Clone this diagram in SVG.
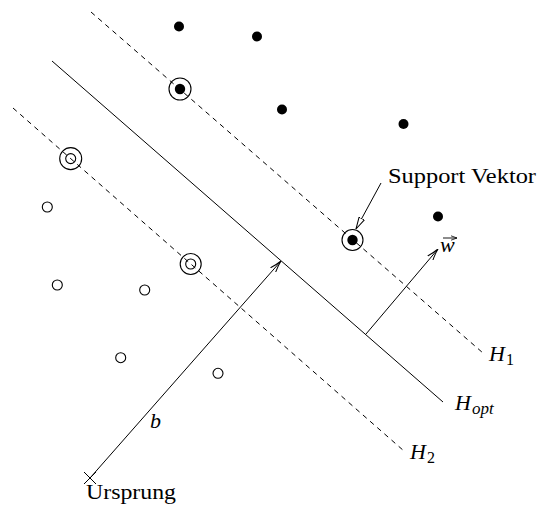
<svg xmlns="http://www.w3.org/2000/svg" width="540" height="507" viewBox="0 0 540 507">
<style>
.ln{stroke:#000;stroke-width:1;fill:none}
.dash{stroke:#000;stroke-width:1;fill:none;stroke-dasharray:5 4.5}
.fd{fill:#000}
.od{fill:#fff;stroke:#000;stroke-width:1.1}
.ring{fill:none;stroke:#000;stroke-width:1.1}
.t{font-family:"Liberation Serif","DejaVu Serif",serif;font-size:22px;fill:#000}
.i{font-style:italic}
</style>
<defs>
<marker id="v" markerUnits="userSpaceOnUse" viewBox="0 0 12 8" refX="12" refY="4" markerWidth="12" markerHeight="8" orient="auto">
<path d="M0,0.6 Q6,3 12,4 Q6,5 0,7.4" fill="none" stroke="#000" stroke-width="1"/>
</marker>
<marker id="tri" markerUnits="userSpaceOnUse" viewBox="0 0 12 8" refX="12" refY="4" markerWidth="12" markerHeight="8" orient="auto">
<path d="M0,1 L12,4 L0,7 Z" fill="#fff" stroke="#000" stroke-width="1"/>
</marker>
<marker id="sv" markerUnits="userSpaceOnUse" viewBox="0 0 6 6" refX="6" refY="3" markerWidth="6" markerHeight="6" orient="auto">
<path d="M0,0.8 L6,3 L0,5.2" fill="none" stroke="#000" stroke-width="0.8"/>
</marker>
</defs>
<g id="connectors">
<line id="H1" class="dash" x1="91" y1="12" x2="483" y2="353"/>
<line id="Hopt" class="ln" x1="52" y1="61" x2="443" y2="402"/>
<line id="H2" class="dash" x1="13" y1="108" x2="404" y2="451"/>
<line id="b" class="ln" x1="90" y1="478" x2="281" y2="261" marker-end="url(#v)"/>
<line id="w" class="ln" x1="366" y1="334" x2="438" y2="249" marker-end="url(#v)"/>
<line id="sv-pointer" class="ln" stroke-width="0.8" x1="381" y1="183" x2="356" y2="229" marker-end="url(#tri)"/>
<path id="origin" class="ln" d="M84,472 L96,484 M84,484 L96,472"/>
</g>
<g id="class1">
<circle class="fd" cx="179" cy="26.5" r="5"/>
<circle class="fd" cx="257" cy="36.5" r="5"/>
<circle class="fd" cx="282" cy="109.5" r="5"/>
<circle class="fd" cx="403.5" cy="124" r="5"/>
<circle class="fd" cx="438" cy="216.5" r="5"/>
</g>
<g id="sv1">
<circle class="fd" cx="180" cy="89" r="5.2"/>
<circle class="ring" cx="180" cy="89" r="11"/>
</g>
<g id="sv2">
<circle class="fd" cx="352.5" cy="240" r="5.2"/>
<circle class="ring" cx="352.5" cy="240" r="10.5"/>
</g>
<g id="class2">
<circle class="od" cx="47.3" cy="207" r="5"/>
<circle class="od" cx="57.3" cy="285" r="5"/>
<circle class="od" cx="144.7" cy="290" r="5"/>
<circle class="od" cx="120.7" cy="357.7" r="5"/>
<circle class="od" cx="218" cy="373.3" r="5"/>
</g>
<g id="sv3">
<circle class="ring" cx="70.7" cy="158.6" r="5"/>
<circle class="ring" cx="70.7" cy="158.6" r="11"/>
</g>
<g id="sv4">
<circle class="ring" cx="190.7" cy="264" r="5"/>
<circle class="ring" cx="190.7" cy="264" r="10.5"/>
</g>
<g id="labels">
<text class="t" x="388" y="183" textLength="148" lengthAdjust="spacingAndGlyphs">Support Vektor</text>
<text class="t" x="86" y="499" textLength="90" lengthAdjust="spacingAndGlyphs">Ursprung</text>
<text class="t i" x="150" y="428" font-size="23">b</text>
<g id="wlabel">
<text class="t i" x="440" y="252" font-size="23">w</text>
<line x1="443" y1="238" x2="457" y2="238" stroke="#000" stroke-width="0.9" marker-end="url(#sv)"/>
</g>
<text class="t i" x="489" y="361" font-size="24">H<tspan font-style="normal" font-size="16" dx="1" dy="4">1</tspan></text>
<text class="t i" x="455" y="410" font-size="24">H<tspan font-size="17" dx="1" dy="4">opt</tspan></text>
<text class="t i" x="410" y="459" font-size="24">H<tspan font-style="normal" font-size="16" dx="1" dy="4">2</tspan></text>
</g>
</svg>
